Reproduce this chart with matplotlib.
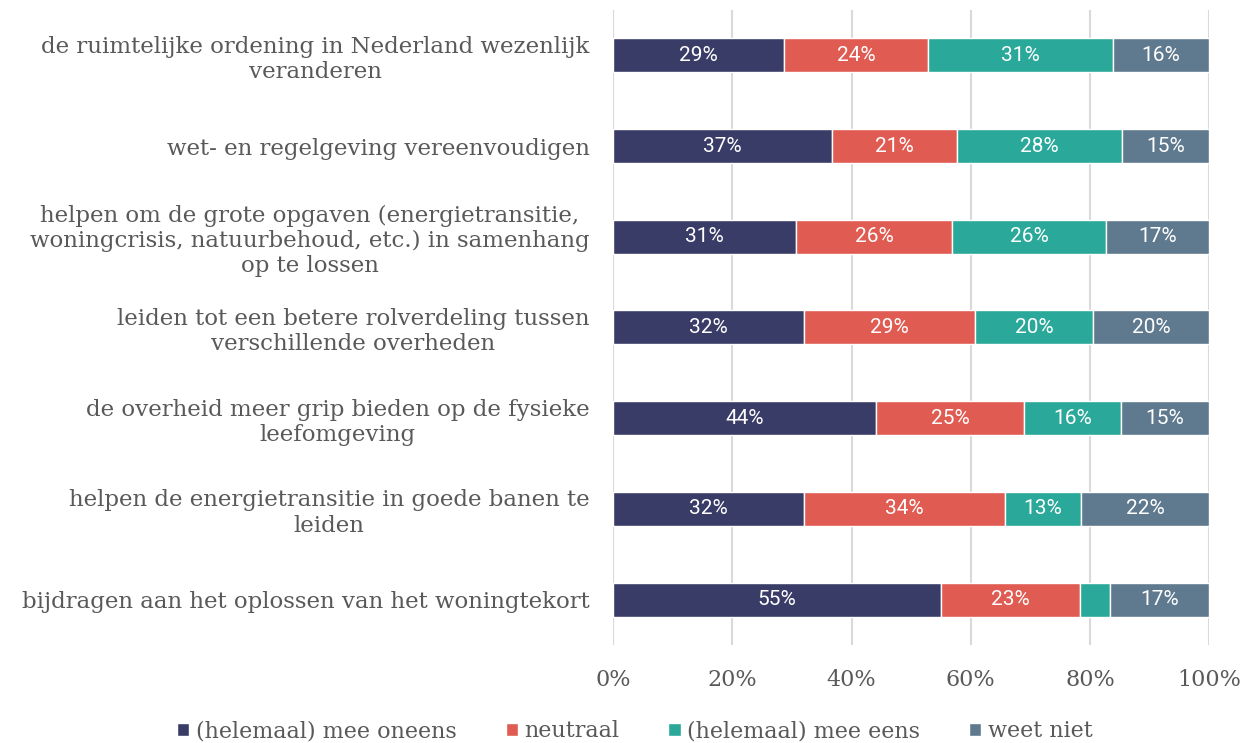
import matplotlib.pyplot as plt
import numpy as np

# stellingen (top to bottom)
stellingen = [
    "de ruimtelijke ordening in Nederland wezenlijk\nveranderen",
    "wet- en regelgeving vereenvoudigen",
    "helpen om de grote opgaven (energietransitie,\nwoningcrisis, natuurbehoud, etc.) in samenhang\nop te lossen",
    "leiden tot een betere rolverdeling tussen\nverschillende overheden",
    "de overheid meer grip bieden op de fysieke\nleefomgeving",
    "helpen de energietransitie in goede banen te\nleiden",
    "bijdragen aan het oplossen van het woningtekort",
]

oneens = [28.7, 36.7, 30.6, 32.0, 44.1, 32.0, 55.0]
neutraal = [24.2, 21.0, 26.3, 28.7, 24.8, 33.7, 23.4]
eens = [31.0, 27.7, 25.8, 19.8, 16.3, 12.8, 5.0]
weet_niet = [16.1, 14.6, 17.3, 19.5, 14.8, 21.5, 16.6]

series = ["(helemaal) mee oneens", "neutraal", "(helemaal) mee eens", "weet niet"]
colors = ["#3a3c68", "#e05c52", "#2aa89a", "#5f7a8f"]
ticks = [0, 20, 40, 60, 80, 100]

text_col = "#595959"

fig = plt.figure(figsize=(12.45, 7.43), dpi=100)
ax = fig.add_axes([0.4925, 0.132, 0.4787, 0.8545])

y = np.arange(len(stellingen))
left = np.zeros(len(stellingen))
for vals, name, c in zip([oneens, neutraal, eens, weet_niet], series, colors):
    vals = np.array(vals)
    bars = ax.barh(y, vals, left=left, height=0.375, color=c, edgecolor="white",
                   linewidth=1.0, label=name, zorder=3)
    for b, v in zip(bars, vals):
        if v >= 8:
            ax.text(b.get_x() + b.get_width() / 2, b.get_y() + b.get_height() / 2,
                    f"{round(v):.0f}%", ha="center", va="center", color="white",
                    fontsize=15, family="Roboto", zorder=4)
    left += vals

ax.set_xlim(0, 100)
ax.set_ylim(len(stellingen) - 0.5, -0.5)
ax.set_xticks(ticks)
ax.set_xticklabels([f"{t}%" for t in ticks], fontsize=16, family="DejaVu Serif", color=text_col)
ax.set_yticks(y)
ax.set_yticklabels(stellingen, fontsize=16.5, family="DejaVu Serif", color=text_col,
                   multialignment="center", linespacing=1.2)
ax.tick_params(axis="y", length=0, pad=17)
ax.tick_params(axis="x", length=0, pad=17)
ax.grid(axis="x", color="#d9d9d9", linewidth=1.5, zorder=0)
for s in ax.spines.values():
    s.set_visible(False)

leg = fig.legend(loc="lower center", bbox_to_anchor=(0.51, -0.026), ncol=4, frameon=False,
                 prop={"family": "DejaVu Serif", "size": 16}, handlelength=0.55,
                 handleheight=0.55, handletextpad=0.3, columnspacing=2.2)
for t in leg.get_texts():
    t.set_color(text_col)

fig.savefig("out.png", dpi=100)
